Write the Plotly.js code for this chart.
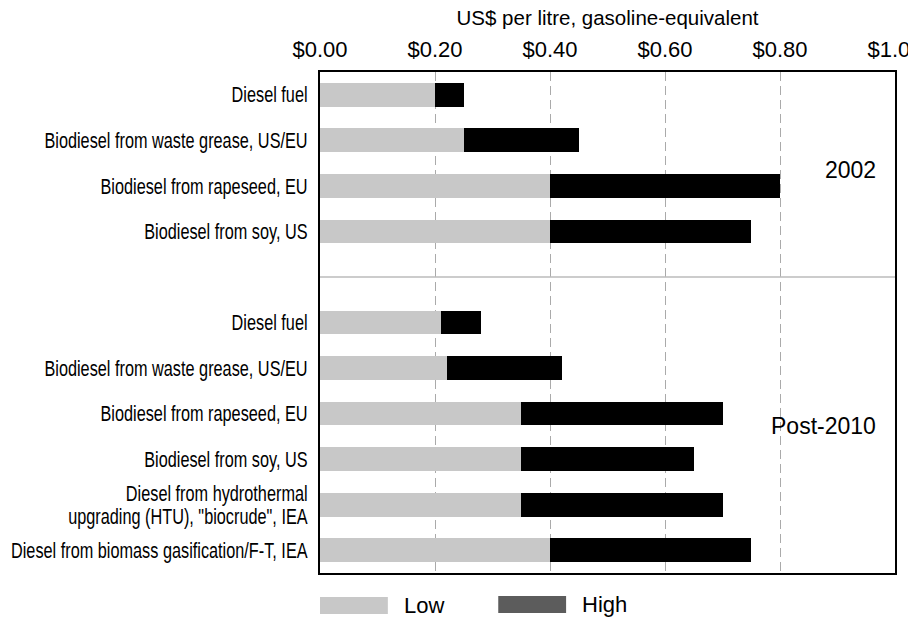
<!DOCTYPE html>
<html><head><meta charset="utf-8">
<script src="https://cdn.plot.ly/plotly-3.0.1.min.js"></script>
<style>body{margin:0;background:#fff}#chart{width:908px;height:618px}</style>
</head><body><div id="chart"></div>
<script>
const labels2002 = ["Diesel fuel", "Biodiesel from waste grease, US/EU", "Biodiesel from rapeseed, EU", "Biodiesel from soy, US"];
const low2002 = [0.20, 0.25, 0.40, 0.40];
const high2002 = [0.25, 0.45, 0.80, 0.75];
const labelsPost = ["Diesel fuel", "Biodiesel from waste grease, US/EU", "Biodiesel from rapeseed, EU", "Biodiesel from soy, US", "Diesel from hydrothermal<br>upgrading (HTU), \"biocrude\", IEA", "Diesel from biomass gasification/F-T, IEA"];
const lowPost = [0.21, 0.22, 0.35, 0.35, 0.35, 0.40];
const highPost = [0.28, 0.42, 0.70, 0.65, 0.70, 0.75];
const xTicks = [0, 0.2, 0.4, 0.6, 0.8, 1.0];
const xTickText = ["$0.00", "$0.20", "$0.40", "$0.60", "$0.80", "$1.00"];
const groupNames = ["2002", "Post-2010"];
const seriesNames = ["Low", "High"];
const axisTitle = "US$ per litre, gasoline-equivalent";

// rows: 2002 group, one empty slot, then post-2010 group
const gapIndex = labels2002.length;
const rows2002 = labels2002.map((_, i) => i);
const rowsPost = labelsPost.map((_, i) => gapIndex + 1 + i);
const rows = rows2002.concat(rowsPost);
const labels = labels2002.concat(labelsPost);
const low = low2002.concat(lowPost);
const high = high2002.concat(highPost);
const span = high.map((h, i) => +(h - low[i]).toFixed(4));

const LOWC = "#c8c8c8", HIGHC = "#000000", HIGHLEG = "#5c5c5c";
const regular = "Liberation Sans, Arial, sans-serif";
const CONDENSE = 0.74; // horizontal squeeze for the condensed category labels

const traces = [
  {type: "bar", orientation: "h", name: seriesNames[0], y: rows, x: low,
   marker: {color: LOWC}, width: 0.52, showlegend: false, hoverinfo: "x"},
  {type: "bar", orientation: "h", name: seriesNames[1], y: rows, x: span,
   marker: {color: HIGHC}, width: 0.52, showlegend: false, hoverinfo: "x"}
];

const layout = {
  width: 908, height: 618,
  margin: {l: 320, r: 13, t: 72, b: 45},
  paper_bgcolor: "#fff", plot_bgcolor: "#fff",
  barmode: "stack",
  font: {family: regular, color: "#000"},
  xaxis: {
    side: "top", range: [0, 1], tickvals: xTicks, ticktext: xTickText,
    showgrid: true, gridcolor: "#aaaaaa", griddash: "9px,5px", gridwidth: 1,
    showline: true, mirror: true, linecolor: "#000", linewidth: 2,
    zeroline: false, ticks: "", ticklabelstandoff: 4, ticklabeloverflow: "allow",
    tickfont: {size: 22, family: regular},
    title: {text: axisTitle, font: {size: 20.5, family: regular}, standoff: 6},
    automargin: false
  },
  yaxis: {
    range: [rows[rows.length - 1] + 0.5, -0.5], tickvals: rows, ticktext: labels,
    showgrid: false, zeroline: false,
    showline: true, mirror: true, linecolor: "#000", linewidth: 2,
    ticks: "", ticklabelstandoff: 6,
    tickfont: {size: 22, family: regular},
    automargin: false
  },
  shapes: [
    {type: "line", xref: "paper", yref: "y", x0: 0, x1: 1, y0: gapIndex, y1: gapIndex,
     line: {color: "#bbbbbb", width: 1.5}},
    {type: "rect", xref: "paper", yref: "paper", x0: 0, x1: 0.118, y0: -0.048, y1: -0.082,
     fillcolor: LOWC, line: {width: 0}},
    {type: "rect", xref: "paper", yref: "paper", x0: 0.310, x1: 0.428, y0: -0.046, y1: -0.080,
     fillcolor: HIGHLEG, line: {width: 0}}
  ],
  annotations: [
    {text: groupNames[0], xref: "paper", yref: "y", x: 0.97, y: 1.65, xanchor: "right",
     yanchor: "middle", showarrow: false, font: {size: 23, family: regular}},
    {text: groupNames[1], xref: "paper", yref: "y", x: 0.97, y: 7.27, xanchor: "right",
     yanchor: "middle", showarrow: false, font: {size: 23, family: regular}},
    {text: seriesNames[0], xref: "paper", yref: "paper", x: 0.1426, y: -0.064, xanchor: "left",
     yanchor: "middle", showarrow: false, font: {size: 22, family: regular}},
    {text: seriesNames[1], xref: "paper", yref: "paper", x: 0.452, y: -0.062, xanchor: "left",
     yanchor: "middle", showarrow: false, font: {size: 22, family: regular}}
  ]
};

Plotly.newPlot("chart", traces, layout, {displayModeBar: false, staticPlot: true}).then(gd => {
  // narrow the category labels (the reference uses a condensed face)
  gd.querySelectorAll(".ytick text").forEach(t => {
    const x = parseFloat(t.getAttribute("x")) || 0;
    const tr = t.getAttribute("transform") || "";
    t.setAttribute("transform", tr + " translate(" + x + ",0) scale(" + CONDENSE + ",1) translate(" + (-x) + ",0)");
    const lines = t.querySelectorAll("tspan.line");
    if (lines.length > 1) {
      // tighter line spacing for the two-line label
      for (let i = 1; i < lines.length; i++) lines[i].setAttribute("dy", "1.05em");
      const y0 = parseFloat(t.getAttribute("y")) || 0;
      t.setAttribute("y", y0 + 0.125 * 22 * (lines.length - 1));
      lines.forEach(l => { if (l.getAttribute("y") !== null) l.setAttribute("y", parseFloat(l.getAttribute("y")) + 0.125 * 22 * (lines.length - 1)); });
    }
  });
});
</script>
</body></html>
